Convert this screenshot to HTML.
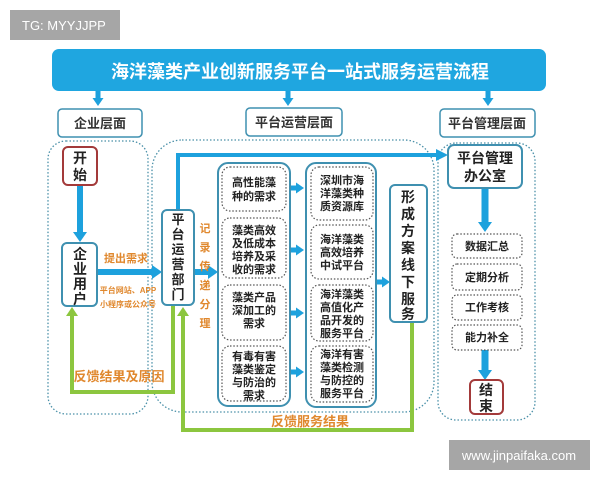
<!DOCTYPE html>
<html><head><meta charset="utf-8"><style>
html,body{margin:0;padding:0;background:#fff;}
svg{display:block;font-family:"Liberation Sans","Noto Sans CJK SC",sans-serif;}
</style></head><body>
<svg width="600" height="480" viewBox="0 0 600 480" xmlns="http://www.w3.org/2000/svg">
<defs>
<marker id="ab" markerUnits="userSpaceOnUse" markerWidth="10" markerHeight="14" refX="0" refY="7" orient="auto"><path d="M0,0 L10,7 L0,14 z" fill="#1da1dd"/></marker>
<marker id="abs" markerUnits="userSpaceOnUse" markerWidth="8" markerHeight="11" refX="0" refY="5.5" orient="auto"><path d="M0,0 L8,5.5 L0,11 z" fill="#1da1dd"/></marker>
<marker id="ag" markerUnits="userSpaceOnUse" markerWidth="9" markerHeight="12" refX="0" refY="6" orient="auto"><path d="M0,0 L9,6 L0,12 z" fill="#8cc63f"/></marker>
</defs>
<rect x="10" y="10" width="110" height="30" fill="#a6a6a6"/>
<text x="22" y="30" font-size="13" fill="#fff">TG: MYYJJPP</text>

<rect x="52" y="49" width="494" height="42" rx="7" fill="#1fa6e0"/>
<text x="300" y="78" font-size="18" font-weight="bold" fill="#fff" text-anchor="middle">海洋藻类产业创新服务平台一站式服务运营流程</text>

<g stroke="#1da1dd" stroke-width="5" fill="none">
<line x1="98" y1="91" x2="98" y2="98" marker-end="url(#abs)"/>
<line x1="288" y1="91" x2="288" y2="98" marker-end="url(#abs)"/>
<line x1="488" y1="91" x2="488" y2="98" marker-end="url(#abs)"/>
</g>
<g fill="#fff" stroke="#3f90b0" stroke-width="1.5">
<rect x="58" y="109" width="84" height="28" rx="4"/>
<rect x="246" y="108" width="96" height="28" rx="4"/>
<rect x="440" y="109" width="95" height="28" rx="4"/>
</g>
<g font-size="13" font-weight="bold" fill="#333" text-anchor="middle">
<text x="100" y="128">企业层面</text>
<text x="294" y="127">平台运营层面</text>
<text x="487" y="128">平台管理层面</text>
</g>

<g fill="none" stroke="#4a90a8" stroke-width="1.3" stroke-dasharray="1.5,2">
<rect x="48" y="141" width="100" height="273" rx="18"/>
<rect x="152" y="140" width="282" height="272" rx="30"/>
<rect x="438" y="143" width="97" height="277" rx="18"/>
</g>

<!-- blue arrows -->
<g stroke="#1da1dd" stroke-width="6" fill="none">
<line x1="80" y1="185" x2="80" y2="232" marker-end="url(#ab)"/>
<line x1="97" y1="272" x2="152" y2="272" marker-end="url(#ab)"/>
<polyline points="178,210 178,155 436,155" stroke-width="4"/>
<line x1="194" y1="272" x2="208" y2="272" marker-end="url(#ab)"/>
<line x1="290" y1="188" x2="296" y2="188" stroke-width="5" marker-end="url(#abs)"/>
<line x1="290" y1="250" x2="296" y2="250" stroke-width="5" marker-end="url(#abs)"/>
<line x1="290" y1="313" x2="296" y2="313" stroke-width="5" marker-end="url(#abs)"/>
<line x1="290" y1="372" x2="296" y2="372" stroke-width="5" marker-end="url(#abs)"/>
<line x1="376" y1="282" x2="382" y2="282" stroke-width="5" marker-end="url(#abs)"/>
<line x1="485" y1="188" x2="485" y2="222" stroke-width="7" marker-end="url(#ab)"/>
<line x1="485" y1="350" x2="485" y2="370" stroke-width="7" marker-end="url(#ab)"/>
</g>
<path d="M436,149 L448,155 L436,161 z" fill="#1da1dd"/>

<!-- green -->
<g stroke="#8cc63f" stroke-width="4" fill="none">
<polyline points="173,305 173,392 72,392 72,316" marker-end="url(#ag)"/>
<polyline points="412,322 412,430 183,430 183,316" marker-end="url(#ag)"/>
</g>

<!-- boxes -->
<g fill="#fff" stroke="#a33a3a" stroke-width="2">
<rect x="63" y="147" width="34" height="38" rx="5"/>
<rect x="470" y="380" width="33" height="34" rx="5"/>
</g>
<g fill="#fff" stroke="#3f90b0" stroke-width="2">
<rect x="62" y="243" width="35" height="63" rx="5"/>
<rect x="162" y="210" width="32" height="95" rx="5"/>
<rect x="218" y="163" width="72" height="243" rx="10"/>
<rect x="306" y="163" width="70" height="244" rx="10"/>
<rect x="390" y="185" width="37" height="137" rx="5"/>
<rect x="448" y="145" width="74" height="43" rx="6"/>
</g>
<g fill="none" stroke="#555" stroke-width="1.2" stroke-dasharray="1.5,1.8">
<rect x="222" y="167" width="64" height="44" rx="8"/>
<rect x="222" y="218" width="64" height="60" rx="8"/>
<rect x="222" y="285" width="64" height="55" rx="8"/>
<rect x="222" y="346" width="64" height="55" rx="8"/>
<rect x="311" y="167" width="62" height="53" rx="8"/>
<rect x="311" y="225" width="62" height="54" rx="8"/>
<rect x="311" y="285" width="62" height="56" rx="8"/>
<rect x="311" y="346" width="62" height="56" rx="8"/>
<rect x="452" y="234" width="70" height="24" rx="5"/>
<rect x="452" y="264" width="70" height="26" rx="5"/>
<rect x="452" y="295" width="70" height="25" rx="5"/>
<rect x="452" y="325" width="70" height="25" rx="5"/>
</g>

<g font-weight="bold" fill="#222" text-anchor="middle">
<g font-size="14"><text x="80" y="163">开</text><text x="80" y="180">始</text></g>
<g font-size="14"><text x="80" y="259">企</text><text x="80" y="274">业</text><text x="80" y="289">用</text><text x="80" y="304">户</text></g>
<g font-size="13"><text x="178" y="224">平</text><text x="178" y="239">台</text><text x="178" y="254">运</text><text x="178" y="269">营</text><text x="178" y="284">部</text><text x="178" y="299">门</text></g>
<g font-size="14"><text x="408" y="202">形</text><text x="408" y="219">成</text><text x="408" y="236">方</text><text x="408" y="253">案</text><text x="408" y="270">线</text><text x="408" y="287">下</text><text x="408" y="304">服</text><text x="408" y="319">务</text></g>
<g font-size="14"><text x="485" y="163">平台管理</text><text x="485" y="181">办公室</text></g>
<g font-size="14"><text x="486" y="395">结</text><text x="486" y="411">束</text></g>
<g font-size="11">
<text x="254" y="186">高性能藻</text><text x="254" y="200">种的需求</text>
<text x="254" y="234">藻类高效</text><text x="254" y="247">及低成本</text><text x="254" y="260">培养及采</text><text x="254" y="273">收的需求</text>
<text x="254" y="301">藻类产品</text><text x="254" y="314">深加工的</text><text x="254" y="327">需求</text>
<text x="254" y="360">有毒有害</text><text x="254" y="373">藻类鉴定</text><text x="254" y="386">与防治的</text><text x="254" y="399">需求</text>
<text x="342" y="184">深圳市海</text><text x="342" y="197">洋藻类种</text><text x="342" y="210">质资源库</text>
<text x="342" y="243">海洋藻类</text><text x="342" y="256">高效培养</text><text x="342" y="269">中试平台</text>
<text x="342" y="298">海洋藻类</text><text x="342" y="311">高值化产</text><text x="342" y="324">品开发的</text><text x="342" y="337">服务平台</text>
<text x="342" y="358">海洋有害</text><text x="342" y="371">藻类检测</text><text x="342" y="384">与防控的</text><text x="342" y="397">服务平台</text>
<text x="487" y="250">数据汇总</text><text x="487" y="281">定期分析</text><text x="487" y="311">工作考核</text><text x="487" y="341">能力补全</text>
</g>
</g>

<g fill="#e0882e" font-weight="bold" text-anchor="middle">
<text x="126" y="262" font-size="11">提出需求</text>
<text x="128" y="293" font-size="8">平台网站、APP</text>
<text x="128" y="307" font-size="8">小程序或公众号</text>
<g font-size="11"><text x="205" y="232">记</text><text x="205" y="251">录</text><text x="205" y="270">传</text><text x="205" y="289">递</text><text x="205" y="308">分</text><text x="205" y="327">理</text></g>
<text x="119" y="381" font-size="13">反馈结果及原因</text>
<text x="310" y="426" font-size="13">反馈服务结果</text>
</g>

<rect x="449" y="440" width="141" height="30" fill="#a6a6a6"/>
<text x="519" y="460" font-size="13" fill="#fff" text-anchor="middle">www.jinpaifaka.com</text>
</svg>
</body></html>
